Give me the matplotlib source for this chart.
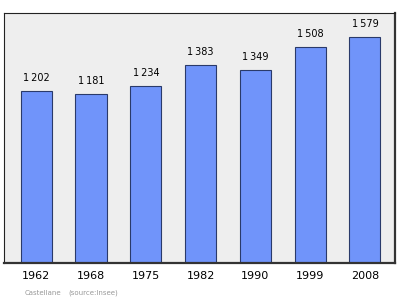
import matplotlib
matplotlib.use("Agg")
import matplotlib.pyplot as plt

years = ["1962", "1968", "1975", "1982", "1990", "1999", "2008"]
population = [1202, 1181, 1234, 1383, 1349, 1508, 1579]

fig = plt.figure(figsize=(4, 2.99), dpi=100)
ax = fig.add_axes([0.01, 0.12, 0.9775, 0.8365])
ax.set_facecolor("#eeeeee")

x = range(len(years))
ax.bar(x, population, width=0.57, color="#7094fa", edgecolor="#2a3a6a", linewidth=0.8, zorder=2)

for xi, v in zip(x, population):
    label = f"{v:,}".replace(",", "\u2009")
    ax.text(xi, v + 55, label, ha="center", va="bottom", fontsize=7, color="black")

ax.set_xlim(-0.59, 6.55)
ax.set_ylim(0, 1745)
ax.set_xticks(list(x))
ax.set_xticklabels(years, fontsize=8)
ax.tick_params(axis="x", length=0, pad=6)
ax.set_yticks([])
for side in ["left", "top"]:
    ax.spines[side].set_linewidth(0.8)
    ax.spines[side].set_color("#222222")
for side in ["right", "bottom"]:
    ax.spines[side].set_linewidth(1.6)
    ax.spines[side].set_color("#333333")

fig.text(25 / 400, 1 - 293 / 299, "Castellane", fontsize=5, color="#999999", va="center")
fig.text(68 / 400, 1 - 293 / 299, "(source:Insee)", fontsize=5, color="#999999", va="center")

fig.savefig("out.png", dpi=100)
